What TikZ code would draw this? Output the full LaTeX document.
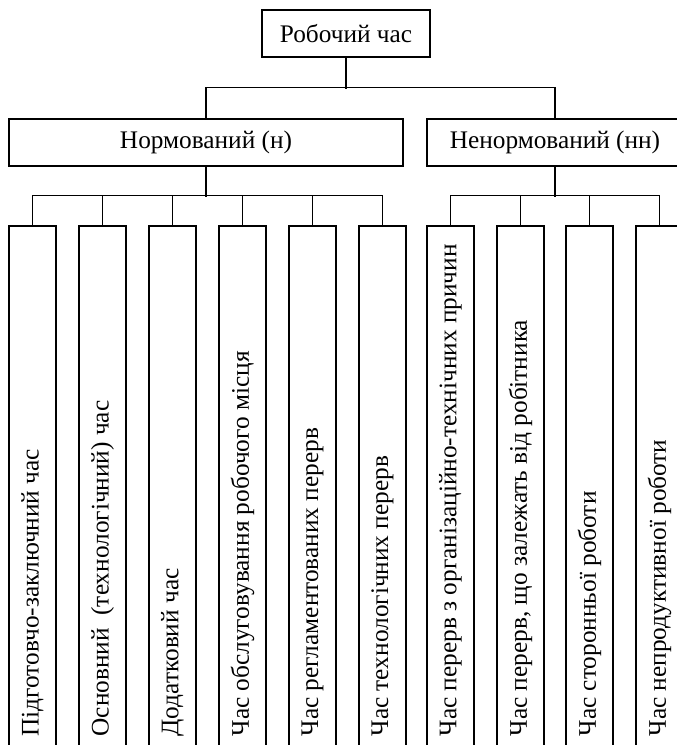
\documentclass[tikz,border=0pt]{standalone}
\usepackage{fontspec}
\setmainfont{Liberation Serif}
\begin{document}
\begin{tikzpicture}[x=1pt,y=-1pt,
  line width=1.4pt,
  every node/.style={font=\fontsize{25.3}{29}\selectfont, inner sep=0pt},
  box/.style={draw, rectangle, minimum height=47pt},
  leaf/.style={draw, rectangle, minimum width=47pt, minimum height=540pt},
  vtext/.style={rotate=90, anchor=west}]
\useasboundingbox (0,0) rectangle (677,745);
\clip (0,0) rectangle (677,745);

% top level
\node[box, minimum width=168pt] (root) at (346,33.5) {Робочий час};

% second level
\node[box, minimum width=394pt] (norm) at (206,142.5) {Нормований (н)};
\node[box, minimum width=256pt] (nenorm) at (555,142.5) {Ненормований (нн)};

% leaves (open at the lower edge)
\foreach \i/\cx in {1/32.5,2/102.5,3/172.5,4/242.5,5/312.5,6/382.5,7/450.5,8/520.5,9/589.5,10/659.5}{
  \node[leaf] (l\i) at (\cx,496) {};
}

\node[vtext] (t1) at (32.5,737) {Підготовчо-заключний час};
\node[vtext] (t2) at (102.5,737) {Основний\ \ (технологічний) час};
\node[vtext] (t3) at (172.5,737) {Додатковий час};
\node[vtext] (t4) at (242.5,737) {Час обслуговування робочого місця};
\node[vtext] (t5) at (312.5,737) {Час регламентованих перерв};
\node[vtext] (t6) at (382.5,737) {Час технологічних перерв};
\node[vtext] (t7) at (450.5,737) {Час перерв з організаційно-технічних причин};
\node[vtext] (t8) at (520.5,737) {Час перерв, що залежать від робітника};
\node[vtext] (t9) at (589.5,737) {Час сторонньої роботи};
\node[vtext] (t10) at (659.5,737) {Час непродуктивної роботи};

% connectors: root to second level
\draw (root.south) -- ++(0,31);
\draw (norm.north) -- ++(0,-31) -| (nenorm.north);

% connectors: normed branch
\draw (norm.south) -- ++(0,30);
\draw (l1.north) -- ++(0,-30) -| (l6.north);
\foreach \i in {2,3,4,5}{ \draw (l\i.north) -- ++(0,-30); }

% connectors: non-normed branch
\draw (nenorm.south) -- ++(0,30);
\draw (l7.north) -- ++(0,-30) -| (l10.north);
\foreach \i in {8,9}{ \draw (l\i.north) -- ++(0,-30); }
\end{tikzpicture}
\end{document}
